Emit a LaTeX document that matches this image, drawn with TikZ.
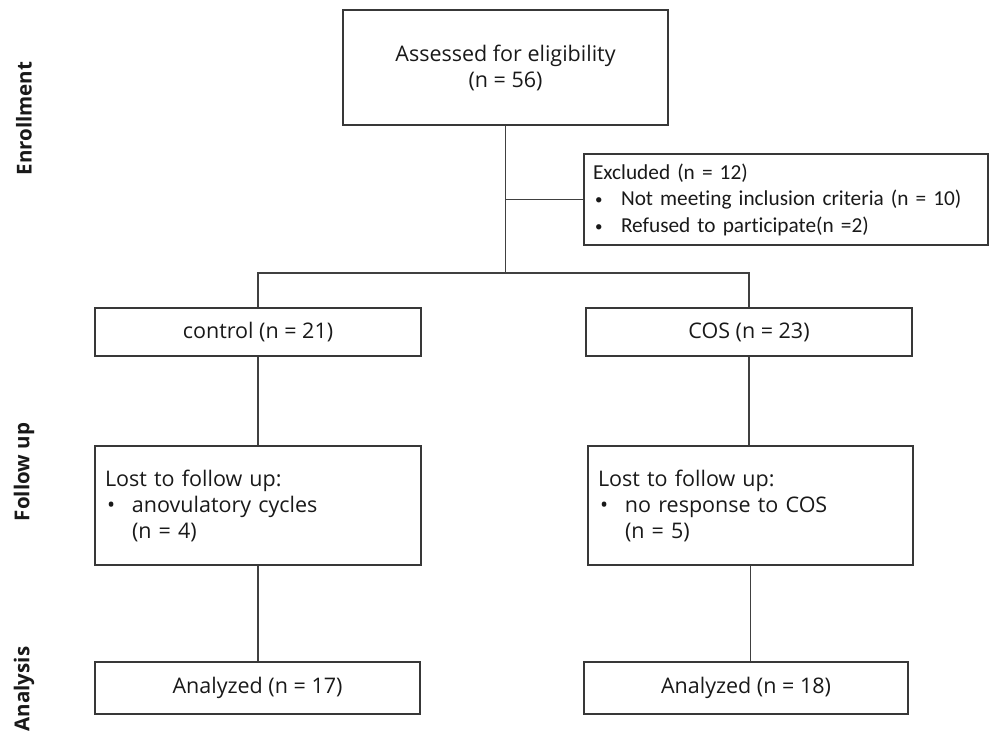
\documentclass[tikz,border=0pt]{standalone}
\usepackage{fontspec}
\setmainfont{Open Sans}
\newfontfamily\calibrifont[Ligatures={NoCommon}]{Carlito}
\newcommand{\itm}[1]{\makebox[27pt][l]{\hspace{2pt}•}#1}
\newcommand{\xitm}[1]{\makebox[28pt][l]{\hspace{2pt}\raisebox{1pt}{\fontsize{15}{15}\selectfont•}}#1}
\begin{document}
\begin{tikzpicture}[x=1pt,y=-1pt,
  box/.style={draw=black!78,line width=1.4pt,rectangle,inner sep=0pt,align=center,
    font=\fontsize{21.5}{26}\selectfont,text=black!90},
  lbox/.style={box,align=left,inner xsep=10pt},
  conn/.style={draw=black!75,line width=1.1pt},
  side/.style={rotate=90,font=\fontsize{20.5}{24}\selectfont\bfseries,text=black!90}]
\useasboundingbox (0,0) rectangle (989,734);
% side labels
\node[side] (lenr) at (24,118.5) {Enrollment};
\node[side] (lfol) at (24,472) {Follow up};
\node[side] (lana) at (24,689) {Analysis};
% boxes
\node[box,minimum width=325pt,minimum height=115pt] (assess) at (505.5,67.5) {Assessed for eligibility\\(n = 56)};
\node[box,align=left,text width=386pt,inner xsep=9pt,minimum height=91pt,
  font=\calibrifont\fontsize{21.3}{26.5}\selectfont] (excl) at (786,199.5)
  {Excluded (n = 12)\\\xitm{Not meeting inclusion criteria (n = 10)}\\\xitm{Refused to participate(n =2)}};
\node[box,minimum width=326pt,minimum height=48pt] (control) at (258,332) {control (n = 21)};
\node[box,minimum width=326pt,minimum height=48pt] (cos) at (749,332) {COS (n = 23)};
\node[lbox,text width=306pt,minimum height=119pt] (lostL) at (258,505.5)
  {Lost to follow up:\\\itm{anovulatory cycles}\\\hspace*{27pt}(n = 4)};
\node[lbox,text width=305pt,minimum height=119pt] (lostR) at (750.5,505.5)
  {Lost to follow up:\\\itm{no response to COS}\\\hspace*{27pt}(n = 5)};
\node[box,minimum width=325pt,minimum height=52pt] (anL) at (257.5,688) {Analyzed (n = 17)};
\node[box,minimum width=324pt,minimum height=52pt] (anR) at (746,688) {Analyzed (n = 18)};
% connectors
\coordinate (branch) at (505.5,199.5);
\coordinate (split) at (505.5,273);
\draw[conn] (assess.south) -- (split);
\draw[conn] (branch) -- (excl.west);
\draw[conn] (split) -| (control.north);
\draw[conn] (split) -| (cos.north);
\draw[conn] (control.south) -- (control.south |- lostL.north);
\draw[conn] (cos.south) -- (cos.south |- lostR.north);
\draw[conn] (lostL.south) -- (lostL.south |- anL.north);
\draw[conn] (lostR.south) -- (lostR.south |- anR.north);
\end{tikzpicture}
\end{document}
